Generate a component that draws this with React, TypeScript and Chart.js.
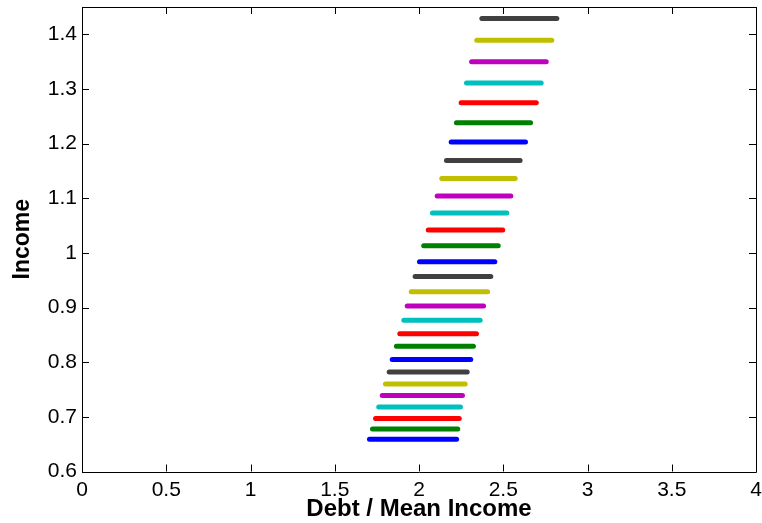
import { useEffect, useRef } from "react";
import { Chart, registerables, Plugin } from "chart.js";

Chart.register(...registerables);

// Income level of each segment (bottom to top)
const incomeLevels = [
  0.659, 0.678, 0.697, 0.718, 0.739, 0.760, 0.782,
  0.805, 0.829, 0.852, 0.877, 0.903, 0.929, 0.957,
  0.984, 1.013, 1.042, 1.073, 1.104, 1.136, 1.169,
  1.203, 1.238, 1.275, 1.311, 1.350, 1.389, 1.429,
];
// Left end (debt / mean income) of each segment
const debtMin = [
  1.706, 1.724, 1.742, 1.761, 1.782, 1.801, 1.823,
  1.841, 1.866, 1.886, 1.910, 1.930, 1.954, 1.977,
  2.003, 2.028, 2.055, 2.080, 2.108, 2.135, 2.163,
  2.191, 2.222, 2.250, 2.282, 2.312, 2.343, 2.373,
];
// Right end of each segment
const debtMax = [
  2.223, 2.230, 2.239, 2.246, 2.258, 2.274, 2.286,
  2.307, 2.323, 2.341, 2.363, 2.383, 2.407, 2.426,
  2.450, 2.470, 2.497, 2.521, 2.545, 2.571, 2.600,
  2.632, 2.662, 2.696, 2.725, 2.755, 2.788, 2.818,
];
// MATLAB default line colour order b g r c m y k
const lineColors = ["#0000FF", "#008000", "#FF0000", "#00BFBF", "#BF00BF", "#BFBF00", "#404040"];

const xTicks = [0, 0.5, 1, 1.5, 2, 2.5, 3, 3.5, 4];
const yTicks = [0.6, 0.7, 0.8, 0.9, 1, 1.1, 1.2, 1.3, 1.4];

const FONT = "'Liberation Sans', Arial, Helvetica, sans-serif";

// box round the plot with inward tick marks on all four sides
const boxPlugin: Plugin = {
  id: "matlabBox",
  afterDraw(chart) {
    const { ctx, chartArea } = chart;
    const { left, right, top, bottom } = chartArea;
    const xs = chart.scales.x;
    const ys = chart.scales.y;
    const len = 7;
    ctx.save();
    ctx.strokeStyle = "#000";
    ctx.lineWidth = 1;
    ctx.beginPath();
    ctx.rect(Math.round(left) + 0.5, Math.round(top) + 0.5, Math.round(right - left), Math.round(bottom - top));
    xTicks.forEach((v) => {
      const px = Math.round(xs.getPixelForValue(v)) + 0.5;
      ctx.moveTo(px, bottom);
      ctx.lineTo(px, bottom - len);
      ctx.moveTo(px, top);
      ctx.lineTo(px, top + len);
    });
    yTicks.forEach((v) => {
      const py = Math.round(ys.getPixelForValue(v)) + 0.5;
      ctx.moveTo(left, py);
      ctx.lineTo(left + len, py);
      ctx.moveTo(right, py);
      ctx.lineTo(right - len, py);
    });
    ctx.stroke();
    ctx.restore();
  },
};

const App = () => {
  const canvasRef = useRef<HTMLCanvasElement>(null);

  useEffect(() => {
    document.body.style.margin = "0";
    if (!canvasRef.current) return;

    const datasets = incomeLevels.map((inc, i) => ({
      label: `income ${inc}`,
      data: [
        { x: debtMin[i], y: inc },
        { x: debtMax[i], y: inc },
      ],
      showLine: true,
      borderColor: lineColors[i % lineColors.length],
      backgroundColor: lineColors[i % lineColors.length],
      borderWidth: 5,
      borderCapStyle: "round" as const,
      pointRadius: 0,
      pointHoverRadius: 0,
    }));

    const chart = new Chart(canvasRef.current, {
      type: "scatter",
      data: { datasets },
      options: {
        animation: false,
        responsive: false,
        devicePixelRatio: 1,
        layout: { padding: { top: 7, right: 6, left: 0, bottom: 0 } },
        plugins: { legend: { display: false }, tooltip: { enabled: false } },
        scales: {
          x: {
            type: "linear",
            min: 0,
            max: 4,
            grid: { display: false, drawTicks: false },
            border: { display: false },
            afterBuildTicks: (scale) => {
              scale.ticks = xTicks.map((v) => ({ value: v }));
            },
            afterFit: (scale: any) => {
              scale.height = 51.5;
              scale.paddingLeft = 0;
              scale.paddingRight = 0;
            },
            ticks: {
              color: "#000",
              padding: 6,
              maxRotation: 0,
              autoSkip: false,
              font: { family: FONT, size: 21 },
              callback: (v) => String(v),
            },
            title: {
              display: true,
              text: "Debt / Mean Income",
              color: "#000",
              font: { family: FONT, size: 24, weight: "bold" },
              padding: { top: 0, bottom: -1 },
            },
          },
          y: {
            type: "linear",
            min: 0.6,
            max: 1.45,
            grid: { display: false, drawTicks: false },
            border: { display: false },
            afterBuildTicks: (scale) => {
              scale.ticks = yTicks.map((v) => ({ value: v }));
            },
            afterFit: (scale: any) => {
              scale.width = 82;
              scale.paddingTop = 0;
              scale.paddingBottom = 0;
            },
            ticks: {
              color: "#000",
              padding: 5,
              autoSkip: false,
              font: { family: FONT, size: 21 },
              callback: (v) => String(v),
            },
            title: {
              display: true,
              text: "Income",
              color: "#000",
              font: { family: FONT, size: 23, weight: "bold" },
              padding: { top: 9, bottom: 0 },
            },
          },
        },
      },
      plugins: [boxPlugin],
    });

    return () => {
      chart.destroy();
    };
  }, []);

  return (
    <div style={{ width: 762, height: 523, background: "#fff" }}>
      <canvas ref={canvasRef} width={762} height={523}></canvas>
    </div>
  );
};

export default App;
